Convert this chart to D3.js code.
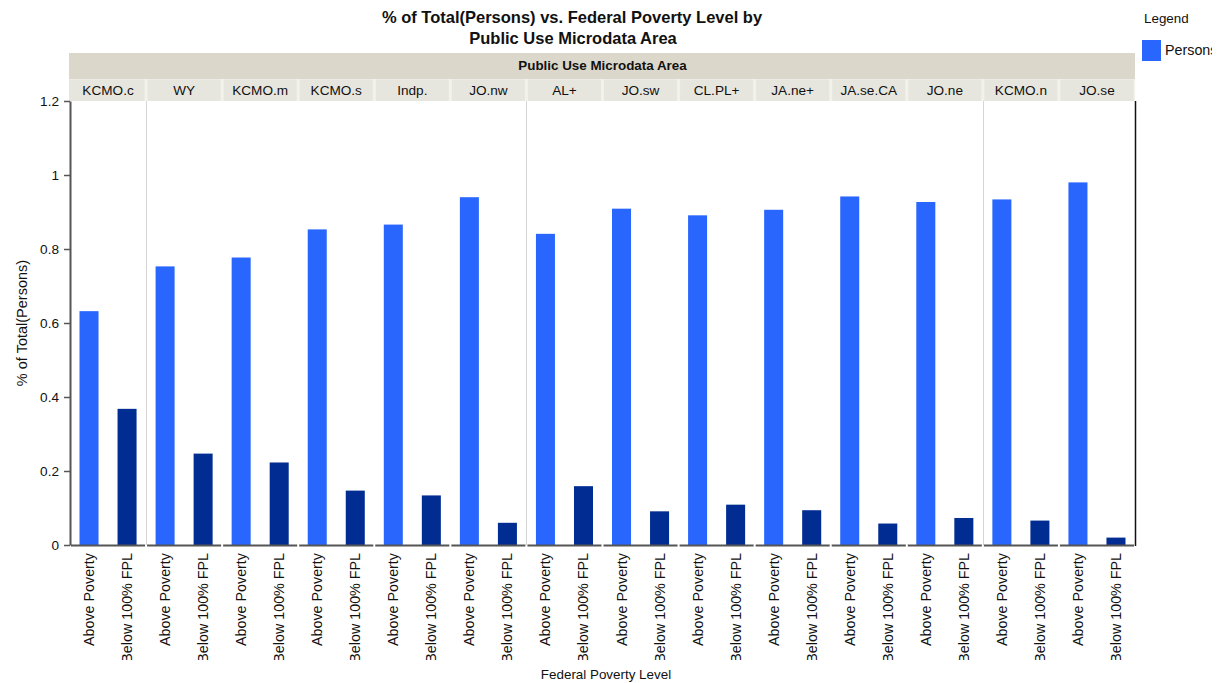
<!DOCTYPE html>
<html>
<head>
<meta charset="utf-8">
<script src="https://cdn.jsdelivr.net/npm/d3@7/dist/d3.min.js"></script>
<style>
  html, body { margin: 0; padding: 0; background: #fff; }
  svg { display: block; font-family: "Liberation Sans", Arial, sans-serif; }
</style>
</head>
<body>
<svg id="chart" width="1222" height="683"></svg>
<script>
// Public Use Microdata Areas (facet panels), in display order
const areas = ["KCMO.c", "WY", "KCMO.m", "KCMO.s", "Indp.", "JO.nw", "AL+", "JO.sw",
               "CL.PL+", "JA.ne+", "JA.se.CA", "JO.ne", "KCMO.n", "JO.se"];
// Poverty level categories within each panel
const levels = ["Above Poverty", "Below 100% FPL"];
// Share of persons in each area by poverty level
const abovePoverty = [0.632, 0.753, 0.777, 0.853, 0.866, 0.940, 0.841, 0.909,
                      0.891, 0.906, 0.942, 0.927, 0.934, 0.980];
const below100FPL  = [0.368, 0.247, 0.223, 0.147, 0.134, 0.060, 0.159, 0.091,
                      0.109, 0.094, 0.058, 0.073, 0.066, 0.020];
const yTicks = [0, 0.2, 0.4, 0.6, 0.8, 1, 1.2];
const seriesName = "Persons";

const svg = d3.select("#chart");
const W = 1222, H = 683;
const plot = { left: 70, right: 1135, top: 101, bottom: 545 };

const rows = areas.map((a, i) => ({ area: a, values: [abovePoverty[i], below100FPL[i]] }));

const xPanel = d3.scaleBand().domain(areas).range([plot.left, plot.right]).padding(0);
const xInner = d3.scaleBand().domain(levels).range([0, xPanel.bandwidth()])
  .paddingInner(0.5).paddingOuter(0.25);
const y = d3.scaleLinear().domain([0, 1.2]).range([plot.bottom, plot.top]);
const color = d3.scaleOrdinal().domain(levels).range(["#2966fe", "#012c92"]);

// Title
svg.append("text").attr("x", 572).attr("y", 23).attr("text-anchor", "middle")
  .attr("font-size", 16.5).attr("font-weight", "bold").attr("fill", "#111")
  .text("% of Total(Persons) vs. Federal Poverty Level by");
svg.append("text").attr("x", 573).attr("y", 44).attr("text-anchor", "middle")
  .attr("font-size", 16.5).attr("font-weight", "bold").attr("fill", "#111")
  .text("Public Use Microdata Area");

// Facet header band
svg.append("rect").attr("x", plot.left - 1).attr("y", 53)
  .attr("width", plot.right - plot.left + 1).attr("height", 26).attr("fill", "#dbd8cb");
svg.append("text").attr("x", (plot.left + plot.right) / 2).attr("y", 70)
  .attr("text-anchor", "middle").attr("font-size", 13.4).attr("font-weight", "bold")
  .attr("fill", "#111").text("Public Use Microdata Area");
svg.append("rect").attr("x", plot.left - 1).attr("y", 79)
  .attr("width", plot.right - plot.left + 1).attr("height", 22).attr("fill", "#f2f1ec");

const headers = svg.append("g");
headers.selectAll("rect").data(areas).join("rect")
  .attr("x", d => xPanel(d) + (d === areas[0] ? -1 : 1.5))
  .attr("y", 79.5)
  .attr("width", d => xPanel.bandwidth() - (d === areas[0] ? 0.5 : 3))
  .attr("height", 21.5)
  .attr("fill", "#e7e6de");
headers.selectAll("text").data(areas).join("text")
  .attr("x", d => xPanel(d) + xPanel.bandwidth() / 2)
  .attr("y", 95)
  .attr("text-anchor", "middle").attr("font-size", 13.6).attr("fill", "#111")
  .text(d => d);

// Panel separators
const separators = [areas[1], areas[6], areas[12]];
svg.append("g").selectAll("line").data(separators).join("line")
  .attr("x1", d => Math.round(xPanel(d)) + 0.5).attr("x2", d => Math.round(xPanel(d)) + 0.5)
  .attr("y1", plot.top).attr("y2", plot.bottom)
  .attr("stroke", "#d6d6d6").attr("stroke-width", 1);

// Bars
const panels = svg.append("g").selectAll("g").data(rows).join("g")
  .attr("transform", d => `translate(${xPanel(d.area)},0)`);
panels.selectAll("rect").data(d => levels.map((l, i) => ({ level: l, value: d.values[i] })))
  .join("rect")
  .attr("x", d => xInner(d.level))
  .attr("width", xInner.bandwidth())
  .attr("y", d => y(d.value))
  .attr("height", d => y(0) - y(d.value))
  .attr("fill", d => color(d.level));

// Baseline segments per panel
panels.append("line")
  .attr("x1", 1).attr("x2", xPanel.bandwidth() - 1)
  .attr("y1", y(0) + 0.5).attr("y2", y(0) + 0.5)
  .attr("stroke", "#555").attr("stroke-width", 2);

// Category labels, rotated, clipped along the bottom edge
svg.append("defs").append("clipPath").attr("id", "xlabClip")
  .append("rect").attr("x", 0).attr("y", 548).attr("width", W).attr("height", 112);
const xlab = svg.append("g").attr("clip-path", "url(#xlabClip)");
panels.each(function (d) {
  const px = xPanel(d.area);
  xlab.append("g").selectAll("text").data(levels).join("text")
    .attr("transform", l => `translate(${px + xInner(l) + xInner.bandwidth() / 2 + 5},553) rotate(-90)`)
    .attr("text-anchor", "end").attr("font-size", 14.3).attr("fill", "#111")
    .text(l => l);
});

// Y axis
const yAxis = svg.append("g").attr("transform", `translate(${plot.left},0)`)
  .call(d3.axisLeft(y).tickValues(yTicks).tickSize(6).tickSizeOuter(0)
    .tickFormat(d => String(+d.toFixed(1))));
yAxis.select(".domain").attr("stroke", "#555").attr("stroke-width", 2);
yAxis.selectAll(".tick line").attr("stroke", "#555").attr("stroke-width", 1.5);
yAxis.selectAll(".tick text").attr("font-size", 13.6).attr("fill", "#111")
  .attr("font-family", "Liberation Sans, Arial, sans-serif").attr("x", -11);

// Right frame edge
svg.append("line").attr("x1", plot.right + 0.5).attr("x2", plot.right + 0.5)
  .attr("y1", plot.top).attr("y2", plot.bottom + 1)
  .attr("stroke", "#111").attr("stroke-width", 1.5);

// Axis titles
svg.append("text").attr("transform", `translate(27,${(plot.top + plot.bottom) / 2}) rotate(-90)`)
  .attr("text-anchor", "middle").attr("font-size", 14.5).attr("fill", "#111")
  .text("% of Total(Persons)");
svg.append("text").attr("x", 606).attr("y", 679).attr("text-anchor", "middle")
  .attr("font-size", 13.4).attr("fill", "#111").text("Federal Poverty Level");

// Legend
svg.append("defs").append("clipPath").attr("id", "legClip")
  .append("rect").attr("x", 1130).attr("y", 0).attr("width", 82).attr("height", 80);
const legend = svg.append("g").attr("clip-path", "url(#legClip)");
legend.append("text").attr("x", 1144).attr("y", 23).attr("font-size", 13.4)
  .attr("fill", "#111").text("Legend");
legend.append("rect").attr("x", 1142).attr("y", 40).attr("width", 19).attr("height", 21)
  .attr("fill", color(levels[0]));
legend.append("text").attr("x", 1165).attr("y", 55).attr("font-size", 14.3)
  .attr("fill", "#111").text(seriesName);
</script>
</body>
</html>
